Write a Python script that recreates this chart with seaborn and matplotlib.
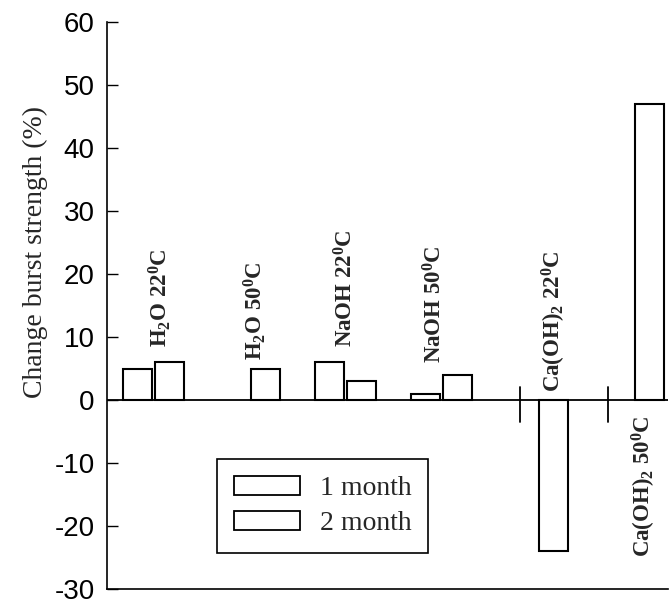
import numpy as np
import pandas as pd
import matplotlib
matplotlib.use("Agg")
import matplotlib.pyplot as plt
import seaborn as sns

# ---- data ----
groups = ["H2O 22C", "H2O 50C", "NaOH 22C", "NaOH 50C", "Ca(OH)2 22C", "Ca(OH)2 50C"]
group_labels = [r"H$_2$O 22$^0$C", r"H$_2$O 50$^0$C", r"NaOH 22$^0$C",
                r"NaOH 50$^0$C", r"Ca(OH)$_2$ 22$^0$C", r"Ca(OH)$_2$ 50$^0$C"]
periods = ["1 month", "2 month"]
one_month = [5, np.nan, 6, 1, np.nan, np.nan]
two_month = [6, 5, 3, 4, -24, 47]
y_ticks = [-30, -20, -10, 0, 10, 20, 30, 40, 50, 60]

rows = []
for g, a, b in zip(groups, one_month, two_month):
    rows.append({"group": g, "period": periods[0], "value": a})
    rows.append({"group": g, "period": periods[1], "value": b})
df = pd.DataFrame(rows).dropna()

sns.set_theme(style="ticks")
plt.rcParams["font.family"] = ["Liberation Serif", "DejaVu Serif"]
plt.rcParams["mathtext.fontset"] = "custom"
plt.rcParams["mathtext.rm"] = "Liberation Serif:bold"
plt.rcParams["mathtext.it"] = "Liberation Serif:bold"
plt.rcParams["mathtext.bf"] = "Liberation Serif:bold"
plt.rcParams["axes.unicode_minus"] = False

fig = plt.figure(figsize=(6.71, 6.05), dpi=100)
ax = fig.add_axes([0.1595, 0.0264, 0.836, 0.937])

sns.barplot(data=df, x="group", y="value", hue="period",
            order=groups, hue_order=periods,
            palette=["white", "white"], edgecolor="black", linewidth=1.5,
            width=0.667, gap=0.09, saturation=1, errorbar=None, ax=ax)

ax.set_xlim(-0.484, 5.36)
ax.set_ylim(-30, 60)
ax.set_yticks(y_ticks)
ax.set_yticklabels([str(t) for t in y_ticks], family="Liberation Sans", fontsize=20)
ax.tick_params(axis="y", direction="in", length=8, width=1, pad=9, colors="black")
ax.tick_params(axis="x", length=0)
ax.set_xticklabels([])
ax.set_xlabel("")
ax.set_ylabel("Change burst strength (%)", fontsize=20, family="Liberation Serif")
ax.yaxis.set_label_coords(-0.105, 0.594)

for s in ["top", "right"]:
    ax.spines[s].set_visible(False)
for s in ["left", "bottom"]:
    ax.spines[s].set_color("black")
    ax.spines[s].set_linewidth(1.2)

ax.axhline(0, color="black", lw=1.3, zorder=3)

# axis-break marks
for xb in [3.82, 4.73]:
    ax.plot([xb, xb], [2.1, -3.5], color="black", lw=1.3, zorder=4)

# group labels
label_pos = [(0.07, 8.4, "bottom"), (1.06, 6.3, "bottom"), (2.0, 8.4, "bottom"),
             (2.93, 5.9, "bottom"), (4.17, 1.3, "bottom"), (5.11, -2.4, "top")]
for lab, (x, y, va) in zip(group_labels, label_pos):
    ax.text(x, y, lab, rotation=90, ha="center", va=va, fontsize=16.5,
            fontweight="bold", family="Liberation Serif")

leg = ax.legend(loc="upper left", bbox_to_anchor=(0.196, 0.229), borderaxespad=0,
                frameon=True, fancybox=False, framealpha=1, edgecolor="black",
                prop={"family": "Liberation Serif", "size": 20},
                handlelength=2.4, handleheight=0.7, labelspacing=0.35,
                handletextpad=0.7, borderpad=0.6)
leg.get_frame().set_linewidth(1.2)
for h in leg.legend_handles:
    h.set_edgecolor("black")
    h.set_facecolor("white")
    h.set_linewidth(1.3)

fig.savefig("out.png", dpi=100)
